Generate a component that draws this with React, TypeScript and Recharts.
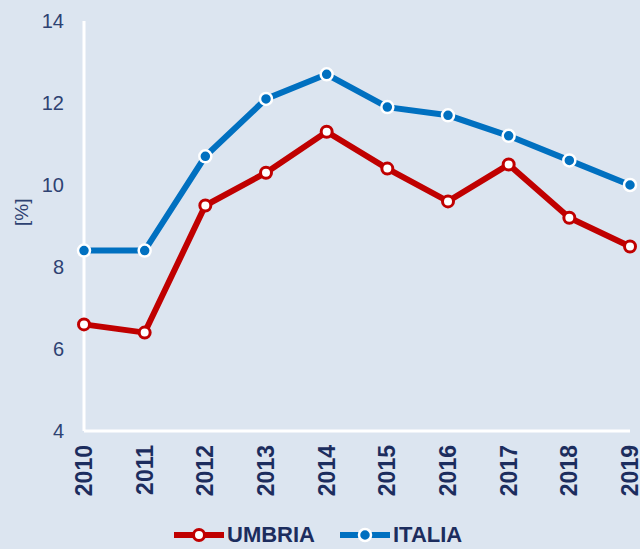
import React from 'react';
import { LineChart, Line, XAxis, YAxis } from 'recharts';

const years = ['2010', '2011', '2012', '2013', '2014', '2015', '2016', '2017', '2018', '2019'];
const umbria = [6.6, 6.4, 9.5, 10.3, 11.3, 10.4, 9.6, 10.5, 9.2, 8.5];
const italia = [8.4, 8.4, 10.7, 12.1, 12.7, 11.9, 11.7, 11.2, 10.6, 10.0];
const yTicks = [4, 6, 8, 10, 12, 14];

const RED = '#c00000';
const BLUE = '#0070c0';
const BG = '#dce5f0';
const NAVY = '#1c2d5e';
const SLATE = '#2e4272';

const data = years.map((year, i) => ({ year, umbria: umbria[i], italia: italia[i] }));

const XTick = ({ x, y, payload }: any) => (
  <g transform={`translate(${x},${y + 14})`}>
    <text
      transform="rotate(-90)"
      x={0}
      y={0}
      textAnchor="end"
      dominantBaseline="central"
      fill={NAVY}
      fontSize={23}
      fontWeight="bold"
      fontFamily="Liberation Sans, Arial, sans-serif"
    >
      {payload.value}
    </text>
  </g>
);

const LegendItem = ({ color, label, filled }: { color: string; label: string; filled: boolean }) => (
  <div style={{ display: 'flex', alignItems: 'center' }}>
    <svg width={50} height={20}>
      <line x1={1} y1={10} x2={49} y2={10} stroke={color} strokeWidth={6} strokeLinecap="round" />
      {filled ? (
        <circle cx={25} cy={10} r={6} fill={color} stroke="#fff" strokeWidth={2.5} />
      ) : (
        <circle cx={25} cy={10} r={5.5} fill="#fff" stroke={color} strokeWidth={3} />
      )}
    </svg>
    <span
      style={{
        marginLeft: 3,
        color: NAVY,
        fontSize: 22,
        fontWeight: 'bold',
        fontFamily: 'Liberation Sans, Arial, sans-serif',
      }}
    >
      {label}
    </span>
  </div>
);

export default function App() {
  return (
    <div style={{ position: 'absolute', left: 0, top: 0, width: 640, height: 549, background: BG }}>
      <LineChart width={640} height={549} data={data} margin={{ top: 21, right: 10, left: 0, bottom: 0 }}>
        <XAxis
          dataKey="year"
          height={118}
          stroke="#ffffff"
          strokeWidth={3}
          tickLine={false}
          tickSize={0}
          tickMargin={0}
          interval={0}
          tick={<XTick />}
        />
        <YAxis
          width={84}
          domain={[4, 14]}
          ticks={yTicks}
          stroke="#ffffff"
          strokeWidth={3}
          tickLine={false}
          tickSize={10}
          tickMargin={10}
          tick={{ fill: SLATE, fontSize: 20, fontFamily: 'Liberation Sans, Arial, sans-serif' }}
          label={{
            value: '[%]',
            angle: -90,
            position: 'insideLeft',
            dx: 16,
            fill: SLATE,
            fontSize: 19,
            fontFamily: 'Liberation Sans, Arial, sans-serif',
          }}
        />
        <Line
          dataKey="umbria"
          stroke={RED}
          strokeWidth={6}
          isAnimationActive={false}
          dot={{ r: 5.5, fill: '#fff', stroke: RED, strokeWidth: 3 }}
        />
        <Line
          dataKey="italia"
          stroke={BLUE}
          strokeWidth={6}
          isAnimationActive={false}
          dot={{ r: 6, fill: BLUE, stroke: '#fff', strokeWidth: 2.5 }}
        />
      </LineChart>
      <div style={{ position: 'absolute', top: 522, left: 174, display: 'flex', gap: 25 }}>
        <LegendItem color={RED} label="UMBRIA" filled={false} />
        <LegendItem color={BLUE} label="ITALIA" filled={true} />
      </div>
    </div>
  );
}
